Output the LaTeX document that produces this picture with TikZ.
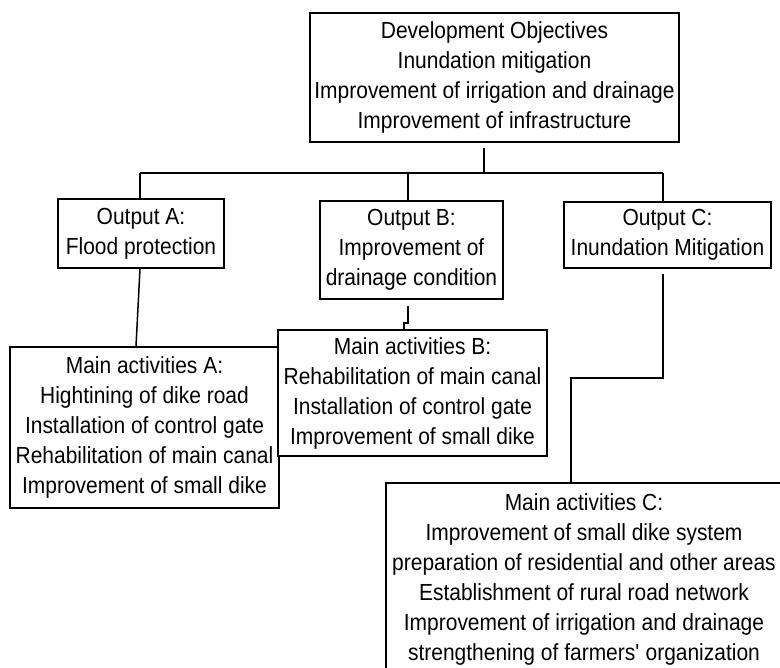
\documentclass[tikz,border=0pt]{standalone}
\usepackage{fontspec}
\setmainfont{Liberation Sans}[FakeStretch=0.9]
\begin{document}
\begin{tikzpicture}[x=1pt,y=-1pt,
  box/.style={draw=black,line width=1.5pt,fill=white,inner sep=0pt,align=center,
    font=\fontsize{23.3}{30}\selectfont,anchor=center},
  conn/.style={draw=black,line width=1.5pt}]
\useasboundingbox (0,0) rectangle (780,668);
\fill[white] (0,0) rectangle (780,668);
% boxes
\node[box,minimum width=369pt,minimum height=129pt] (top) at (494.5,77.5)
  {Development Objectives\\Inundation mitigation\\Improvement of irrigation and drainage\\Improvement of infrastructure};
\node[box,minimum width=166pt,minimum height=69pt] (oa) at (141,233.5)
  {Output A:\\Flood protection};
\node[box,minimum width=183pt,minimum height=98pt] (ob) at (411.5,250)
  {Output B:\\Improvement of\\drainage condition};
\node[box,minimum width=207pt,minimum height=66pt] (oc) at (667.5,235)
  {Output C:\\Inundation Mitigation};
\node[box,minimum width=269pt,minimum height=161pt] (ma) at (144.5,427.5)
  {Main activities A:\\Hightining of dike road\\Installation of control gate\\Rehabilitation of main canal\\Improvement of small dike};
\node[box,minimum width=269pt,minimum height=126pt] (mb) at (412.5,393)
  {Main activities B:\\Rehabilitation of main canal\\Installation of control gate\\Improvement of small dike};
\node[box,minimum width=396pt,minimum height=192pt] (mc) at (584,579)
  {Main activities C:\\Improvement of small dike system\\preparation of residential and other areas\\Establishment of rural road network\\Improvement of irrigation and drainage\\strengthening of farmers\textquotesingle{} organization};
% connector points
\coordinate (bus) at (484,173);
\coordinate (busA) at (140,173);
\coordinate (busB) at (408,173);
\coordinate (busC) at (663,173);
\coordinate (jb1) at (408,323);
\coordinate (jb2) at (404,323);
\coordinate (jc1) at (663,378);
\coordinate (jc2) at (571,378);
% connectors
\draw[conn,shorten <=5pt] (top.south -| bus) -- (bus);
\draw[conn] (busA) -- (busC);
\draw[conn] (busA) -- (busA |- oa.north);
\draw[conn] (busB) -- (busB |- ob.north);
\draw[conn] (busC) -- (busC |- oc.north);
\draw[conn] (oa.south -| busA) -- (ma.north -| 136,0);
\draw[conn,shorten <=6pt] (ob.south -| jb1) -- (jb1) -- (jb2) -- (jb2 |- mb.north);
\draw[conn,shorten <=5pt] (oc.south -| jc1) -- (jc1) -- (jc2) -- (jc2 |- mc.north);
\end{tikzpicture}
\end{document}
